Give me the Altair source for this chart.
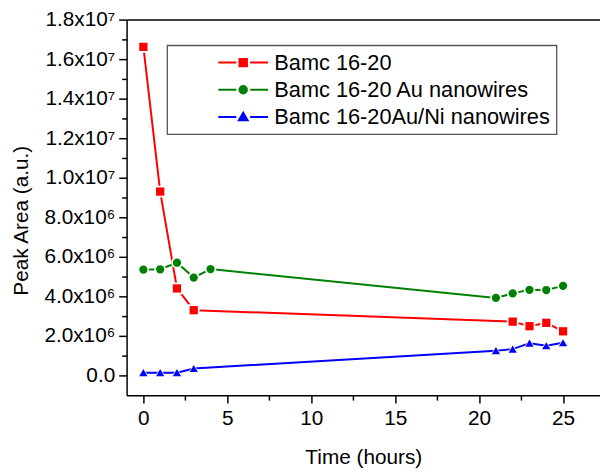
import altair as alt
import pandas as pd

# ---------------- data ----------------
series_names = ["Bamc 16-20", "Bamc 16-20 Au nanowires", "Bamc 16-20Au/Ni nanowires"]
series_colors = ["#ff0000", "#008000", "#0000ff"]
series_shapes = ["square", "circle", "triangle-up"]

t_bamc = [0, 1, 2, 3, 22, 23, 24, 25]
v_bamc = [16.62e6, 9.30e6, 4.40e6, 3.30e6, 2.72e6, 2.49e6, 2.66e6, 2.23e6]

t_au = [0, 1, 2, 3, 4, 21, 22, 23, 24, 25]
v_au = [5.35e6, 5.37e6, 5.70e6, 4.95e6, 5.38e6, 3.92e6, 4.15e6, 4.33e6, 4.32e6, 4.53e6]

t_auni = [0, 1, 2, 3, 21, 22, 23, 24, 25]
v_auni = [0.14e6, 0.14e6, 0.14e6, 0.35e6, 1.25e6, 1.33e6, 1.63e6, 1.50e6, 1.65e6]

x_major = [0, 5, 10, 15, 20, 25]
x_minor = [2.5, 7.5, 12.5, 17.5, 22.5]
y_major = [0, 2e6, 4e6, 6e6, 8e6, 1e7, 1.2e7, 1.4e7, 1.6e7, 1.8e7]
y_labels = ["0.0", "2.0x10\u2076", "4.0x10\u2076", "6.0x10\u2076", "8.0x10\u2076",
            "1.0x10\u2077", "1.2x10\u2077", "1.4x10\u2077", "1.6x10\u2077", "1.8x10\u2077"]
y_minor = [1e6, 3e6, 5e6, 7e6, 9e6, 1.1e7, 1.3e7, 1.5e7, 1.7e7]

rows = []
for name, ts, vs in zip(series_names, [t_bamc, t_au, t_auni], [v_bamc, v_au, v_auni]):
    for t, v in zip(ts, vs):
        rows.append({"series": name, "time": t, "value": v})
df = pd.DataFrame(rows)

FONT = "Liberation Sans"

xs = alt.Scale(domain=[-1, 27.2], nice=False, zero=False)
ys = alt.Scale(domain=[-1e6, 1.8e7], nice=False, zero=False)
color_scale = alt.Scale(domain=series_names, range=series_colors)

# legend symbols: line - marker - line (custom SVG paths)
paths = [
    "M-2.4,0H-0.67M0.67,0H2.4M-0.36,-0.36H0.36V0.36H-0.36Z",
    "M-2.4,0H-0.67M0.67,0H2.4M0.36,0A0.36,0.36,0,1,1,-0.36,0A0.36,0.36,0,1,1,0.36,0Z",
    "M-2.4,0H-0.67M0.67,0H2.4M0,-0.4L0.42,0.32L-0.42,0.32Z",
]
shape_expr = (
    "datum.value === '" + series_names[0] + "' ? '" + paths[0] + "' : "
    "datum.value === '" + series_names[1] + "' ? '" + paths[1] + "' : '" + paths[2] + "'"
)
legend_encode = {
    "symbols": {
        "update": {
            "shape": {"signal": shape_expr},
            "stroke": {"signal": "scale('color', datum.value)"},
            "fill": {"signal": "scale('color', datum.value)"},
            "strokeWidth": {"value": 2},
            "opacity": {"value": 1},
        }
    },
    "legend": {"update": {"strokeWidth": {"value": 1.3}}},
}

legend = alt.Legend(
    title=None,
    orient="none",
    legendX=41,
    legendY=26,
    labelFont=FONT,
    labelFontSize=22,
    labelColor="black",
    labelLimit=400,
    symbolSize=441,
    symbolOffset=59.5,
    labelOffset=20,
    rowPadding=4.5,
    padding=6,
    strokeColor="#555555",
    fillColor="white",
    symbolStrokeWidth=2,
)

label_expr = "[" + ",".join("'" + s + "'" for s in y_labels) + "][round(datum.value / 2000000)]"

main_x = alt.Axis(values=x_major, title="Time (hours)", grid=False, tickSize=8,
                  labelPadding=5, titlePadding=18, format="d")
main_y = alt.Axis(values=y_major, title="Peak Area (a.u.)", grid=False, tickSize=8,
                  labelPadding=4, labelExpr=label_expr, titleX=-96, titleY=203)
minor_x = alt.Axis(values=x_minor, labels=False, title=None, grid=False, tickSize=5,
                   domain=False, orient="bottom")
minor_y = alt.Axis(values=y_minor, labels=False, title=None, grid=False, tickSize=5,
                   domain=False, orient="left")
top_x = alt.Axis(orient="top", ticks=False, labels=False, title=None, grid=False, domain=True)

base = alt.Chart(df)

layers = [
    base.mark_line(strokeWidth=2).encode(
        x=alt.X("time:Q", scale=xs, axis=main_x),
        y=alt.Y("value:Q", scale=ys, axis=main_y),
        color=alt.Color("series:N", scale=color_scale, legend=legend, sort=series_names),
    )
]

# white halos (gap between line and marker)
for i, (name, shp) in enumerate(zip(series_names, series_shapes)):
    layers.append(
        base.transform_filter(alt.datum.series == name)
        .mark_point(filled=True, shape=shp, color="white", size=140, opacity=1)
        .encode(
            x=alt.X("time:Q", scale=xs, axis=minor_x if i == 0 else None),
            y=alt.Y("value:Q", scale=ys, axis=minor_y if i == 0 else None),
        )
    )

# coloured markers
for i, (name, shp) in enumerate(zip(series_names, series_shapes)):
    layers.append(
        base.transform_filter(alt.datum.series == name)
        .mark_point(filled=True, shape=shp, size=70, opacity=1)
        .encode(
            x=alt.X("time:Q", scale=xs, axis=top_x if i == 0 else None),
            y=alt.Y("value:Q", scale=ys, axis=None),
            color=alt.Color("series:N", scale=color_scale, legend=legend, sort=series_names),
        )
    )

chart = (
    alt.layer(*layers)
    .resolve_axis(x="independent", y="independent")
    .properties(
        width=479,
        height=380,
        autosize=alt.AutoSizeParams(type="none"),
        padding={"left": 120, "top": 9, "right": 0, "bottom": 76},
        background="white",
    )
    .configure_view(stroke=None)
    .configure_axis(
        labelFont=FONT,
        labelFontSize=21,
        labelColor="black",
        titleFont=FONT,
        titleFontSize=21,
        titleFontWeight="normal",
        titleColor="black",
        domainColor="black",
        domainWidth=1.5,
        tickColor="black",
        tickWidth=1.5,
    )
)


class _LayerWithLegendEncode(alt.LayerChart):
    """Adds Vega-Lite's (schema-hidden) legend 'encode' block to the color legend."""

    def to_dict(self, *args, **kwargs):
        d = super().to_dict(*args, **kwargs)
        for lyr in d.get("layer", []):
            col = lyr.get("encoding", {}).get("color")
            if isinstance(col, dict) and isinstance(col.get("legend"), dict):
                col["legend"]["encode"] = legend_encode
        return d


object.__setattr__(chart, "__class__", _LayerWithLegendEncode)

chart.save("out.html", embed_options={"renderer": "svg", "actions": False})
